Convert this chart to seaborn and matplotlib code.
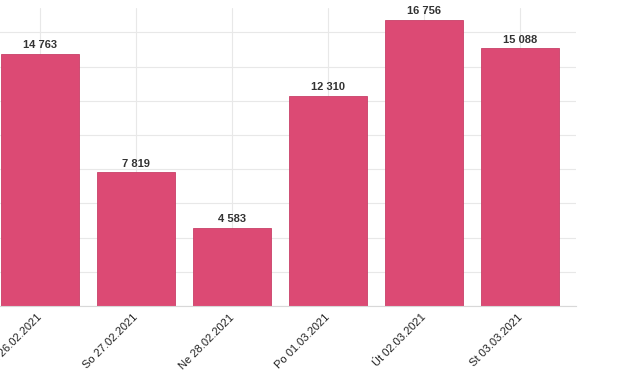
import matplotlib
matplotlib.use("Agg")
import matplotlib.pyplot as plt
import matplotlib.transforms as mtransforms
import seaborn as sns
import pandas as pd
import numpy as np

categories = ["Pá 26.02.2021", "So 27.02.2021", "Ne 28.02.2021", "Po 01.03.2021",
              "Út 02.03.2021", "St 03.03.2021"]
values = [14763, 7819, 4583, 12310, 16756, 15088]
value_labels = ["14 763", "7 819", "4 583", "12 310", "16 756", "15 088"]

sns.set_theme(style="whitegrid")
plt.rcParams["font.family"] = ["Liberation Sans", "DejaVu Sans"]

df = pd.DataFrame({"day": categories, "count": values})

fig = plt.figure(figsize=(6.42, 3.74), dpi=100)
ax = fig.add_axes([-8 / 642, 68 / 374, 584 / 642, 298 / 374])

sns.barplot(data=df, x="day", y="count", ax=ax, color="#DC4A74", saturation=1,
            width=0.81, edgecolor="#c94068", linewidth=0.6)

ax.set_xlim(-0.5, 5.583)
ax.set_ylim(0, 17430)
ax.set_yticks(np.arange(0, 17001, 2000))
ax.set_yticklabels([])
ax.tick_params(axis="y", length=0, pad=0)
ax.set_xlabel("")
ax.set_ylabel("")

ax.grid(True, axis="both", color="#e8e8e8", linewidth=0.8)
ax.set_axisbelow(True)
for s in ["top", "right", "left"]:
    ax.spines[s].set_visible(False)
ax.spines["bottom"].set_color("#d8d8d8")
ax.spines["bottom"].set_linewidth(0.8)

ax.set_xticks(range(len(categories)))
ax.set_xticklabels(categories, rotation=45, ha="right", rotation_mode="anchor",
                   fontsize=8, color="#222222")
ax.tick_params(axis="x", length=0, pad=4.5)
offset = mtransforms.ScaledTranslation(-3 / 100, 0, fig.dpi_scale_trans)
for lab in ax.get_xticklabels():
    lab.set_transform(lab.get_transform() + offset)

for i, (v, lab) in enumerate(zip(values, value_labels)):
    ax.annotate(lab, (i, v), xytext=(0, 2.5), textcoords="offset points",
                ha="center", va="bottom", fontsize=8, fontweight="bold",
                color="#333333")

fig.savefig("out.png", dpi=100)
